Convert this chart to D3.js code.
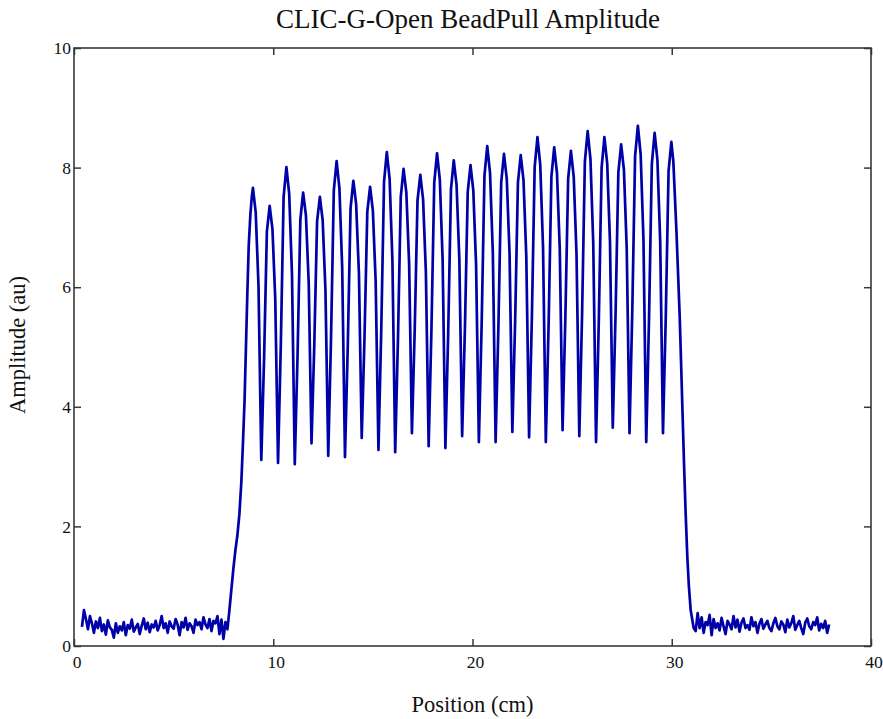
<!DOCTYPE html>
<html>
<head>
<meta charset="utf-8">
<script src="https://cdn.jsdelivr.net/npm/d3@7"></script>
<style>
  body { margin: 0; background: #fff; }
  text { font-family: "Liberation Serif", "Times New Roman", serif; fill: #111; }
</style>
</head>
<body>
<svg id="chart" width="883" height="719"></svg>
<script>
// data ----------------------------------------
var xTicks = [0, 10, 20, 30, 40];
var yTicks = [0, 2, 4, 6, 8, 10];

// baseline noise before the structure (0.1 cm sampling)
var noiseLeftStart = 0.4;
var noiseStep = 0.1;
var noiseLeft = [0.32, 0.60, 0.45, 0.28, 0.50, 0.38, 0.22, 0.41, 0.30, 0.47,
  0.25, 0.36, 0.19, 0.43, 0.31, 0.27, 0.14, 0.38, 0.22, 0.33,
  0.26, 0.40, 0.18, 0.35, 0.29, 0.44, 0.24, 0.31, 0.37, 0.20,
  0.34, 0.46, 0.28, 0.39, 0.23, 0.36, 0.31, 0.42, 0.26, 0.35,
  0.50, 0.30, 0.38, 0.22, 0.41, 0.33, 0.29, 0.45, 0.36, 0.18,
  0.40, 0.31, 0.47, 0.27, 0.38, 0.33, 0.22, 0.44, 0.35, 0.40,
  0.28, 0.48, 0.36, 0.30, 0.45, 0.25, 0.42, 0.38, 0.50, 0.20,
  0.44, 0.12, 0.40];

// rising edge
var rampUpPos = [7.70, 7.80, 7.90, 8.00, 8.10, 8.20, 8.30, 8.40, 8.48, 8.56, 8.63, 8.70, 8.77, 8.85, 8.92];
var rampUpAmp = [0.28, 0.60, 0.95, 1.30, 1.60, 1.85, 2.20, 2.75, 3.40, 4.10, 5.00, 5.90, 6.70, 7.20, 7.50];

// cell oscillation, 0.14 cm sampling starting at first peak
// per cell: peak, two falling samples, trough, two rising samples
var cellStart = 8.98;
var cellStep = 0.14;
var cellAmp = [
  7.66, 7.25, 6.02, 3.11, 4.81, 6.93,
  7.36, 6.97, 5.81, 3.06, 5.04, 7.51,
  8.01, 7.56, 6.22, 3.04, 4.86, 7.13,
  7.58, 7.20, 6.07, 3.39, 5.04, 7.10,
  7.51, 7.12, 5.95, 3.18, 5.15, 7.62,
  8.11, 7.66, 6.33, 3.16, 5.01, 7.32,
  7.78, 7.39, 6.23, 3.48, 5.16, 7.26,
  7.68, 7.28, 6.10, 3.28, 5.27, 7.76,
  8.26, 7.81, 6.45, 3.24, 5.14, 7.51,
  7.98, 7.58, 6.39, 3.56, 5.29, 7.45,
  7.88, 7.47, 6.25, 3.34, 5.30, 7.75,
  8.24, 7.80, 6.47, 3.31, 5.23, 7.64,
  8.12, 7.71, 6.46, 3.51, 5.32, 7.59,
  8.04, 7.62, 6.37, 3.41, 5.39, 7.86,
  8.36, 7.91, 6.58, 3.41, 5.34, 7.75,
  8.23, 7.81, 6.56, 3.58, 5.43, 7.75,
  8.21, 7.79, 6.51, 3.49, 5.50, 8.01,
  8.51, 8.05, 6.67, 3.41, 5.38, 7.85,
  8.34, 7.91, 6.64, 3.61, 5.48, 7.81,
  8.28, 7.85, 6.56, 3.51, 5.55, 8.10,
  8.61, 8.14, 6.74, 3.41, 5.45, 8.00,
  8.51, 8.07, 6.76, 3.65, 5.55, 7.92,
  8.39, 7.96, 6.65, 3.56, 5.62, 8.19,
  8.70, 8.22, 6.80, 3.41, 5.48, 8.06,
  8.58, 8.13, 6.77, 3.56, 5.51, 7.94,
  8.43];

// falling edge
var rampDownPos = [30.08, 30.16, 30.24, 30.32, 30.40, 30.48, 30.55, 30.62, 30.70, 30.78, 30.86, 30.95, 31.05, 31.10];
var rampDownAmp = [8.10, 7.50, 6.90, 6.20, 5.50, 4.60, 3.80, 3.00, 2.20, 1.50, 1.00, 0.60, 0.40, 0.30];

// baseline noise after the structure
var noiseRightStart = 31.2;
var noiseRight = [0.25, 0.55, 0.30, 0.48, 0.22, 0.40, 0.35, 0.52, 0.18, 0.45,
  0.30, 0.38, 0.26, 0.47, 0.33, 0.20, 0.42, 0.36, 0.28, 0.50,
  0.31, 0.44, 0.24, 0.39, 0.46, 0.30, 0.35, 0.27, 0.48, 0.33,
  0.40, 0.22, 0.37, 0.45, 0.29, 0.36, 0.42, 0.30, 0.25, 0.38,
  0.47, 0.33, 0.28, 0.41, 0.36, 0.23, 0.44, 0.31, 0.38, 0.50,
  0.27, 0.35, 0.42, 0.30, 0.20, 0.39, 0.46, 0.33, 0.28, 0.40,
  0.35, 0.48, 0.26, 0.37, 0.30, 0.42, 0.22, 0.36];

// build trace ----------------------------------------
var trace = [];
noiseLeft.forEach(function(v, i) { trace.push([noiseLeftStart + i * noiseStep, v]); });
rampUpPos.forEach(function(p, i) { trace.push([p, rampUpAmp[i]]); });
cellAmp.forEach(function(v, i) { trace.push([cellStart + i * cellStep, v]); });
rampDownPos.forEach(function(p, i) { trace.push([p, rampDownAmp[i]]); });
noiseRight.forEach(function(v, i) { trace.push([noiseRightStart + i * noiseStep, v]); });

// layout ----------------------------------------
var svg = d3.select("#chart");
var plotLeft = 74, plotRight = 871, plotTop = 48, plotBottom = 646;

var x = d3.scaleLinear().domain([0, 40]).range([plotLeft, plotRight]);
var y = d3.scaleLinear().domain([0, 10]).range([plotBottom, plotTop]);

var frameColor = "#383838";
var tickLen = 7;

function styleTicks(g) {
  g.select(".domain").remove();
  g.selectAll("line").attr("stroke", frameColor).attr("stroke-width", 1.5);
  g.selectAll("text")
    .attr("font-size", 17.5)
    .attr("fill", "#111")
    .style("font-family", "Liberation Serif, serif");
}

// axes: ticks inside, mirrored on both sides
svg.append("g")
  .attr("transform", "translate(0," + plotBottom + ")")
  .call(d3.axisBottom(x).tickValues(xTicks).tickSizeInner(-tickLen).tickSizeOuter(0).tickPadding(10))
  .call(styleTicks)
  .call(function(g) { g.selectAll("text").attr("dx", 2.5); });

svg.append("g")
  .attr("transform", "translate(0," + plotTop + ")")
  .call(d3.axisTop(x).tickValues(xTicks).tickSizeInner(-tickLen).tickSizeOuter(0).tickFormat(""))
  .call(styleTicks);

svg.append("g")
  .attr("transform", "translate(" + plotLeft + ",0)")
  .call(d3.axisLeft(y).tickValues(yTicks).tickSizeInner(-tickLen).tickSizeOuter(0).tickPadding(3))
  .call(styleTicks);

svg.append("g")
  .attr("transform", "translate(" + plotRight + ",0)")
  .call(d3.axisRight(y).tickValues(yTicks).tickSizeInner(-tickLen).tickSizeOuter(0).tickFormat(""))
  .call(styleTicks);

// frame
svg.append("rect")
  .attr("x", plotLeft).attr("y", plotTop)
  .attr("width", plotRight - plotLeft).attr("height", plotBottom - plotTop)
  .attr("fill", "none")
  .attr("stroke", frameColor)
  .attr("stroke-width", 1.6);

// trace
var line = d3.line()
  .x(function(d) { return x(d[0]); })
  .y(function(d) { return y(d[1]); });

svg.append("path")
  .datum(trace)
  .attr("d", line)
  .attr("fill", "none")
  .attr("stroke", "#0000a8")
  .attr("stroke-width", 2.7)
  .attr("stroke-linejoin", "round");

// labels
svg.append("text")
  .attr("x", 468).attr("y", 28)
  .attr("text-anchor", "middle")
  .attr("font-size", 27)
  .text("CLIC-G-Open BeadPull Amplitude");

svg.append("text")
  .attr("x", (plotLeft + plotRight) / 2).attr("y", 712)
  .attr("text-anchor", "middle")
  .attr("font-size", 22.5)
  .text("Position (cm)");

svg.append("text")
  .attr("transform", "translate(25," + ((plotTop + plotBottom) / 2 - 2) + ") rotate(-90)")
  .attr("text-anchor", "middle")
  .attr("font-size", 22.5)
  .text("Amplitude (au)");
</script>
</body>
</html>
